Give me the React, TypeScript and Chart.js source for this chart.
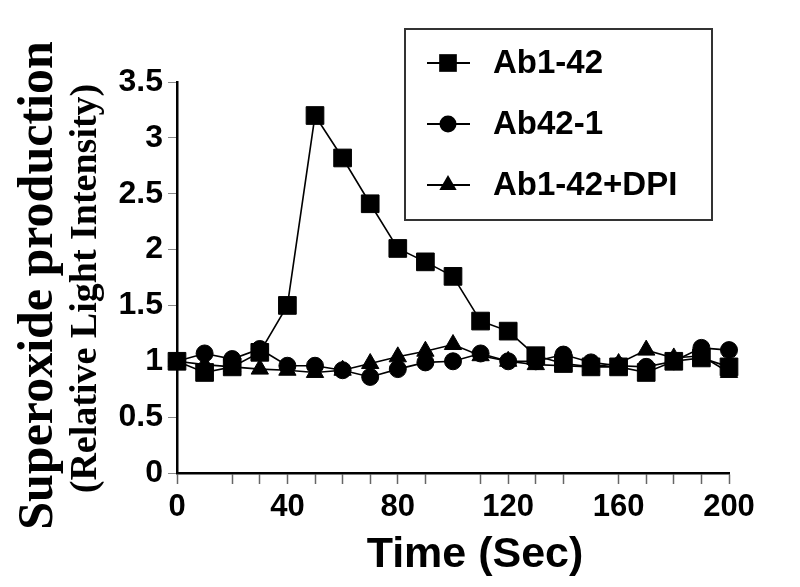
import React, { useEffect, useRef } from "react";
import { Chart, registerables } from "chart.js";

Chart.register(...registerables);

const times = [0, 10, 20, 30, 40, 50, 60, 70, 80, 90, 100, 110, 120, 130, 140, 150, 160, 170, 180, 190, 200];
const ab142 = [1.0, 0.9, 0.95, 1.08, 1.5, 3.2, 2.82, 2.41, 2.01, 1.89, 1.76, 1.36, 1.27, 1.05, 0.98, 0.95, 0.95, 0.9, 1.0, 1.03, 0.95];
const ab421 = [1.0, 1.07, 1.02, 1.11, 0.96, 0.96, 0.92, 0.86, 0.93, 0.99, 1.0, 1.07, 1.0, 1.0, 1.06, 0.99, 0.96, 0.95, 1.0, 1.12, 1.1];
const ab142dpi = [1.0, 0.97, 0.95, 0.93, 0.92, 0.9, 0.92, 0.98, 1.04, 1.09, 1.15, 1.05, 1.0, 0.97, 0.96, 0.95, 0.98, 1.1, 1.03, 1.05, 0.9];

const seriesNames = ["Ab1-42", "Ab42-1", "Ab1-42+DPI"];
const xTickMarks = [0, 20, 30, 40, 50, 60, 70, 80, 90, 110, 120, 130, 140, 160, 170, 180, 190, 200];
const xLabelStep = 40;
const yTitle1 = "Superoxide production";
const yTitle2 = "(Relative Light Intensity)";
const xTitle = "Time (Sec)";

const pointStyles = ["rect", "circle", "triangle"] as const;
const pointRadii = [12.5, 8.5, 10];

const SANS = "'Liberation Sans', Arial, sans-serif";
const SERIF = "'Liberation Serif', 'Times New Roman', serif";

function drawMarker(ctx: CanvasRenderingContext2D, style: string, x: number, y: number, r: number) {
  ctx.beginPath();
  if (style === "rect") {
    const s = Math.SQRT1_2 * r;
    ctx.rect(x - s, y - s, 2 * s, 2 * s);
  } else if (style === "circle") {
    ctx.arc(x, y, r, 0, Math.PI * 2);
  } else {
    const a = (2 * Math.PI) / 3;
    ctx.moveTo(x, y - r);
    ctx.lineTo(x + Math.sin(a) * r, y - Math.cos(a) * r);
    ctx.lineTo(x + Math.sin(2 * a) * r, y - Math.cos(2 * a) * r);
    ctx.closePath();
  }
  ctx.fill();
}

const overlayPlugin = {
  id: "overlay",
  afterDraw(chart: any) {
    const ctx = chart.ctx as CanvasRenderingContext2D;
    const area = chart.chartArea;
    ctx.save();
    const cy = (area.top + area.bottom) / 2 + 8;
    ctx.fillStyle = "#000";
    ctx.textAlign = "center";
    ctx.textBaseline = "alphabetic";
    ctx.save();
    ctx.translate(52, cy);
    ctx.rotate(-Math.PI / 2);
    ctx.font = `bold 50px ${SERIF}`;
    ctx.fillText(yTitle1, 0, 0);
    ctx.restore();
    ctx.save();
    ctx.translate(96, cy + 3);
    ctx.rotate(-Math.PI / 2);
    ctx.font = `bold 38px ${SERIF}`;
    ctx.fillText(yTitle2, 0, 0);
    ctx.restore();
    // X title
    ctx.font = `bold 43px ${SANS}`;
    ctx.fillText(xTitle, 475, 567);

    // Legend
    const bx = 405, by = 29, bw = 307, bh = 191;
    ctx.fillStyle = "#fff";
    ctx.fillRect(bx, by, bw, bh);
    ctx.strokeStyle = "#333";
    ctx.lineWidth = 2;
    ctx.strokeRect(bx, by, bw, bh);
    const rows = [63, 124, 185];
    chart.data.datasets.forEach((ds: any, i: number) => {
      const y = rows[i];
      ctx.strokeStyle = "#000";
      ctx.lineWidth = 2;
      ctx.beginPath();
      ctx.moveTo(427, y);
      ctx.lineTo(470, y);
      ctx.stroke();
      ctx.fillStyle = "#000";
      drawMarker(ctx, pointStyles[i], 448, y, pointRadii[i]);
      ctx.font = `bold 33px ${SANS}`;
      ctx.textAlign = "left";
      ctx.textBaseline = "middle";
      ctx.fillText(ds.label, 493, y + 1);
    });
    ctx.restore();
  },
};

export default function App() {
  const ref = useRef<HTMLCanvasElement | null>(null);
  useEffect(() => {
    document.body.style.margin = "0";
    const canvas = ref.current!;
    const series = [ab142, ab421, ab142dpi];
    const chart = new Chart(canvas, {
      type: "line",
      data: {
        datasets: series.map((vals, i) => ({
          label: seriesNames[i],
          data: times.map((t, j) => ({ x: t, y: vals[j] })),
          borderColor: "#000",
          backgroundColor: "#000",
          borderWidth: 1.6,
          pointStyle: pointStyles[i],
          pointRadius: pointRadii[i],
          pointBackgroundColor: "#000",
          pointBorderColor: "#000",
          pointBorderWidth: 1,
          tension: 0,
          clip: false as any,
        })),
      },
      options: {
        animation: false,
        responsive: false,
        events: [],
        layout: { padding: { left: 0, right: 71, top: 82, bottom: 0 } },
        plugins: { legend: { display: false }, tooltip: { enabled: false } },
        scales: {
          x: {
            type: "linear",
            min: 0,
            max: 200,
            afterBuildTicks: (scale: any) => {
              scale.ticks = xTickMarks.map((v) => ({ value: v }));
            },
            afterFit: (scale: any) => {
              scale.height = 587 - 473;
            },
            ticks: {
              autoSkip: false,
              maxRotation: 0,
              padding: 5,
              color: "#000",
              font: { family: SANS, weight: "bold", size: 31 },
              callback: (v: any) => (Number(v) % xLabelStep === 0 ? String(v) : ""),
            },
            grid: {
              drawOnChartArea: false,
              drawTicks: true,
              tickLength: 11,
              tickColor: "#666",
              tickWidth: 1.5,
            },
            border: { display: true, color: "#000", width: 2.5 },
          },
          y: {
            min: 0,
            max: 3.5,
            afterFit: (scale: any) => {
              scale.width = 177;
            },
            ticks: {
              stepSize: 0.5,
              padding: 5,
              color: "#000",
              font: { family: SANS, weight: "bold", size: 32 },
              callback: (v: any) => String(Number(v)),
            },
            grid: {
              drawOnChartArea: false,
              drawTicks: true,
              tickLength: 9,
              tickColor: "#888",
              tickWidth: 1,
            },
            border: { display: true, color: "#000", width: 2.5 },
          },
        },
      },
      plugins: [overlayPlugin],
    });
    return () => chart.destroy();
  }, []);
  return (
    <div style={{ width: 800, height: 587 }}>
      <canvas ref={ref} width={800} height={587} style={{ display: "block", width: 800, height: 587 }} />
    </div>
  );
}
